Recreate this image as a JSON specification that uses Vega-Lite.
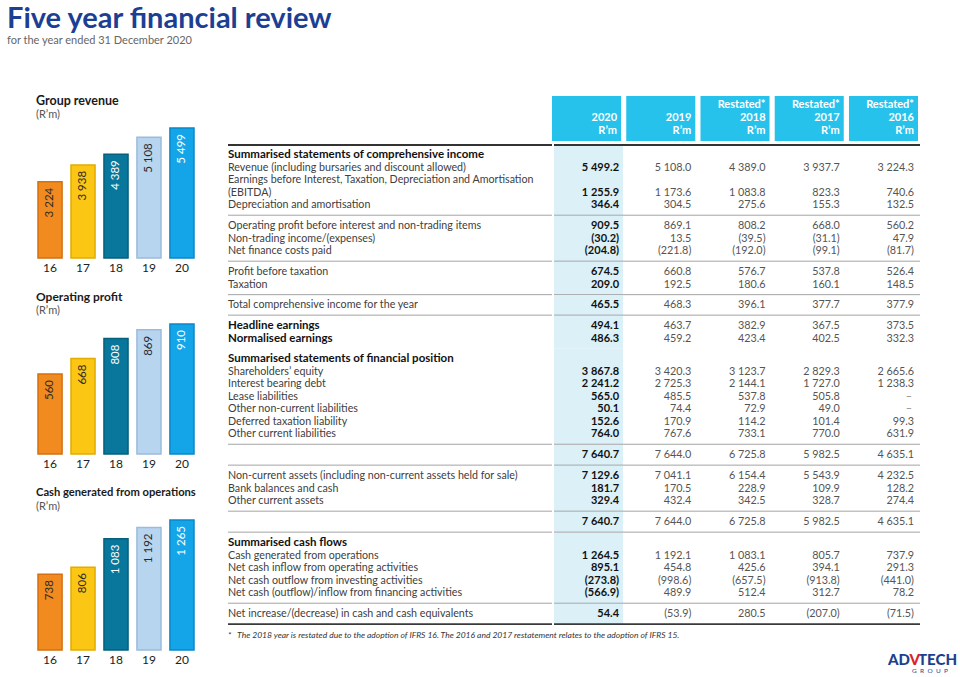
{
  "$schema": "https://vega.github.io/schema/vega-lite/v6.json",
  "padding": {"left": 7, "top": 5, "right": 0, "bottom": 0},
  "background": "white",
  "title": {
    "text": "Five year financial review",
    "subtitle": "for the year ended 31 December 2020",
    "anchor": "start", "frame": "group", "dx": -31,
    "font": "Lato", "fontSize": 29, "fontWeight": "bold", "color": "#1c3f94",
    "subtitleFont": "Lato", "subtitleFontSize": 11, "subtitleColor": "#666666",
    "subtitlePadding": 1, "offset": 49
  },
  "datasets": {
    "rev": [{"yr": "16", "v": 3224}, {"yr": "17", "v": 3938}, {"yr": "18", "v": 4389}, {"yr": "19", "v": 5108}, {"yr": "20", "v": 5499}],
    "op": [{"yr": "16", "v": 560}, {"yr": "17", "v": 668}, {"yr": "18", "v": 808}, {"yr": "19", "v": 869}, {"yr": "20", "v": 910}],
    "cash": [{"yr": "16", "v": 738}, {"yr": "17", "v": 806}, {"yr": "18", "v": 1083}, {"yr": "19", "v": 1192}, {"yr": "20", "v": 1265}],
    "hdr": [
      {"col": "2020", "head": ["", "2020", "R’m"]},
      {"col": "2019", "head": ["", "2019", "R’m"]},
      {"col": "2018", "head": ["Restated*", "2018", "R’m"]},
      {"col": "2017", "head": ["Restated*", "2017", "R’m"]},
      {"col": "2016", "head": ["Restated*", "2016", "R’m"]}
    ],
    "tbl": [
      {"n": 1, "g": 1, "kind": "section", "label": "Summarised statements of comprehensive income"},
      {"n": 2, "g": 1, "kind": "item", "label": "Revenue (including bursaries and discount allowed)", "2020": 5499.2, "2019": 5108.0, "2018": 4389.0, "2017": 3937.7, "2016": 3224.3},
      {"n": 3, "g": 1, "kind": "item", "label": "Earnings before Interest, Taxation, Depreciation and Amortisation"},
      {"n": 4, "g": 1, "kind": "item", "label": "\u2002(EBITDA)", "2020": 1255.9, "2019": 1173.6, "2018": 1083.8, "2017": 823.3, "2016": 740.6},
      {"n": 5, "g": 1, "kind": "item", "label": "Depreciation and amortisation", "2020": 346.4, "2019": 304.5, "2018": 275.6, "2017": 155.3, "2016": 132.5},
      {"n": 6, "g": 2, "kind": "item", "label": "Operating profit before interest and non-trading items", "2020": 909.5, "2019": 869.1, "2018": 808.2, "2017": 668.0, "2016": 560.2},
      {"n": 7, "g": 2, "kind": "item", "label": "Non-trading income/(expenses)", "2020": -30.2, "2019": 13.5, "2018": -39.5, "2017": -31.1, "2016": 47.9},
      {"n": 8, "g": 2, "kind": "item", "label": "Net finance costs paid", "2020": -204.8, "2019": -221.8, "2018": -192.0, "2017": -99.1, "2016": -81.7},
      {"n": 9, "g": 3, "kind": "item", "label": "Profit before taxation", "2020": 674.5, "2019": 660.8, "2018": 576.7, "2017": 537.8, "2016": 526.4},
      {"n": 10, "g": 3, "kind": "item", "label": "Taxation", "2020": 209.0, "2019": 192.5, "2018": 180.6, "2017": 160.1, "2016": 148.5},
      {"n": 11, "g": 4, "kind": "item", "label": "Total comprehensive income for the year", "2020": 465.5, "2019": 468.3, "2018": 396.1, "2017": 377.7, "2016": 377.9},
      {"n": 12, "g": 5, "kind": "key", "label": "Headline earnings", "2020": 494.1, "2019": 463.7, "2018": 382.9, "2017": 367.5, "2016": 373.5},
      {"n": 13, "g": 5, "kind": "key", "label": "Normalised earnings", "2020": 486.3, "2019": 459.2, "2018": 423.4, "2017": 402.5, "2016": 332.3},
      {"n": 14, "g": 6, "kind": "section", "label": "Summarised statements of financial position"},
      {"n": 15, "g": 6, "kind": "item", "label": "Shareholders’ equity", "2020": 3867.8, "2019": 3420.3, "2018": 3123.7, "2017": 2829.3, "2016": 2665.6},
      {"n": 16, "g": 6, "kind": "item", "label": "Interest bearing debt", "2020": 2241.2, "2019": 2725.3, "2018": 2144.1, "2017": 1727.0, "2016": 1238.3},
      {"n": 17, "g": 6, "kind": "item", "label": "Lease liabilities", "2020": 565.0, "2019": 485.5, "2018": 537.8, "2017": 505.8, "2016": null},
      {"n": 18, "g": 6, "kind": "item", "label": "Other non-current liabilities", "2020": 50.1, "2019": 74.4, "2018": 72.9, "2017": 49.0, "2016": null},
      {"n": 19, "g": 6, "kind": "item", "label": "Deferred taxation liability", "2020": 152.6, "2019": 170.9, "2018": 114.2, "2017": 101.4, "2016": 99.3},
      {"n": 20, "g": 6, "kind": "item", "label": "Other current liabilities", "2020": 764.0, "2019": 767.6, "2018": 733.1, "2017": 770.0, "2016": 631.9},
      {"n": 21, "g": 7, "kind": "total", "label": "", "2020": 7640.7, "2019": 7644.0, "2018": 6725.8, "2017": 5982.5, "2016": 4635.1},
      {"n": 22, "g": 8, "kind": "item", "label": "Non-current assets (including non-current assets held for sale)", "2020": 7129.6, "2019": 7041.1, "2018": 6154.4, "2017": 5543.9, "2016": 4232.5},
      {"n": 23, "g": 8, "kind": "item", "label": "Bank balances and cash", "2020": 181.7, "2019": 170.5, "2018": 228.9, "2017": 109.9, "2016": 128.2},
      {"n": 24, "g": 8, "kind": "item", "label": "Other current assets", "2020": 329.4, "2019": 432.4, "2018": 342.5, "2017": 328.7, "2016": 274.4},
      {"n": 25, "g": 9, "kind": "total", "label": "", "2020": 7640.7, "2019": 7644.0, "2018": 6725.8, "2017": 5982.5, "2016": 4635.1},
      {"n": 26, "g": 10, "kind": "section", "label": "Summarised cash flows"},
      {"n": 27, "g": 10, "kind": "item", "label": "Cash generated from operations", "2020": 1264.5, "2019": 1192.1, "2018": 1083.1, "2017": 805.7, "2016": 737.9},
      {"n": 28, "g": 10, "kind": "item", "label": "Net cash inflow from operating activities", "2020": 895.1, "2019": 454.8, "2018": 425.6, "2017": 394.1, "2016": 291.3},
      {"n": 29, "g": 10, "kind": "item", "label": "Net cash outflow from investing activities", "2020": -273.8, "2019": -998.6, "2018": -657.5, "2017": -913.8, "2016": -441.0},
      {"n": 30, "g": 10, "kind": "item", "label": "Net cash (outflow)/inflow from financing activities", "2020": -566.9, "2019": 489.9, "2018": 512.4, "2017": 312.7, "2016": 78.2},
      {"n": 31, "g": 11, "kind": "item", "label": "Net increase/(decrease) in cash and cash equivalents", "2020": 54.4, "2019": -53.9, "2018": 280.5, "2017": -207.0, "2016": -71.5}
    ]
  },
  "spacing": 31,
  "hconcat": [
    {
      "spacing": 18,
      "vconcat": [
        {
          "spacing": 6,
          "vconcat": [
            {
              "data": {"values": [{"t": "Group revenue", "u": "(R’m)"}]}, "width": 156, "height": 25,
              "layer": [
                {"mark": {"type": "text", "align": "left", "baseline": "middle", "dy": -7.5, "dx": -2, "fontSize": 12.5, "fontWeight": "bold", "color": "#1a1a1a"},
                 "encoding": {"x": {"datum": "t", "type": "nominal", "scale": {"type": "point", "padding": 0, "align": 0}, "axis": null}, "text": {"field": "t"}}},
                {"mark": {"type": "text", "align": "left", "baseline": "middle", "dy": 6.5, "dx": -2, "fontSize": 11, "color": "#555555"},
                 "encoding": {"x": {"datum": "t", "type": "nominal", "scale": {"type": "point", "padding": 0, "align": 0}, "axis": null}, "text": {"field": "u"}}}
              ]
            },
            {
              "data": {"name": "rev"}, "width": 156, "height": 130,
              "layer": [
                {"mark": {"type": "bar", "strokeWidth": 1.5},
                 "encoding": {
                   "x": {"field": "yr", "type": "nominal", "scale": {"paddingInner": 0.27, "paddingOuter": 0}, "axis": {"title": null, "labelAngle": 0, "ticks": false, "domain": false, "labelFontSize": 12, "labelColor": "#222222", "labelPadding": 4}},
                   "y": {"field": "v", "type": "quantitative", "scale": {"nice": false}, "axis": null},
                   "color": {"field": "yr", "type": "nominal", "scale": {"domain": ["16", "17", "18", "19", "20"], "range": ["#f28b1f", "#fcc614", "#08779b", "#b8d5ef", "#14a5e9"]}, "legend": null},
                   "stroke": {"field": "yr", "type": "nominal", "scale": {"domain": ["16", "17", "18", "19", "20"], "range": ["#d4700f", "#e3ac00", "#05607d", "#9bbbdc", "#0a88c9"]}, "legend": null}
                 }},
                {"mark": {"type": "text", "angle": 270, "align": "right", "baseline": "middle", "dx": -6, "fontSize": 11.5},
                 "encoding": {
                   "x": {"field": "yr", "type": "nominal"},
                   "y": {"field": "v", "type": "quantitative"},
                   "text": {"field": "v", "type": "quantitative", "format": ",d"},
                   "color": {"condition": {"test": "datum.yr == '18' || datum.yr == '20'", "value": "#ffffff"}, "value": "#2a2a2a"}
                 }}
              ]
            }
          ]
        },
        {
          "spacing": 6,
          "vconcat": [
            {
              "data": {"values": [{"t": "Operating profit", "u": "(R’m)"}]}, "width": 156, "height": 25,
              "layer": [
                {"mark": {"type": "text", "align": "left", "baseline": "middle", "dy": -7.5, "dx": -2, "fontSize": 12, "fontWeight": "bold", "color": "#1a1a1a"},
                 "encoding": {"x": {"datum": "t", "type": "nominal", "scale": {"type": "point", "padding": 0, "align": 0}, "axis": null}, "text": {"field": "t"}}},
                {"mark": {"type": "text", "align": "left", "baseline": "middle", "dy": 6.5, "dx": -2, "fontSize": 11, "color": "#555555"},
                 "encoding": {"x": {"datum": "t", "type": "nominal", "scale": {"type": "point", "padding": 0, "align": 0}, "axis": null}, "text": {"field": "u"}}}
              ]
            },
            {
              "data": {"name": "op"}, "width": 156, "height": 130,
              "layer": [
                {"mark": {"type": "bar", "strokeWidth": 1.5},
                 "encoding": {
                   "x": {"field": "yr", "type": "nominal", "scale": {"paddingInner": 0.27, "paddingOuter": 0}, "axis": {"title": null, "labelAngle": 0, "ticks": false, "domain": false, "labelFontSize": 12, "labelColor": "#222222", "labelPadding": 4}},
                   "y": {"field": "v", "type": "quantitative", "scale": {"nice": false}, "axis": null},
                   "color": {"field": "yr", "type": "nominal", "scale": {"domain": ["16", "17", "18", "19", "20"], "range": ["#f28b1f", "#fcc614", "#08779b", "#b8d5ef", "#14a5e9"]}, "legend": null},
                   "stroke": {"field": "yr", "type": "nominal", "scale": {"domain": ["16", "17", "18", "19", "20"], "range": ["#d4700f", "#e3ac00", "#05607d", "#9bbbdc", "#0a88c9"]}, "legend": null}
                 }},
                {"mark": {"type": "text", "angle": 270, "align": "right", "baseline": "middle", "dx": -6, "fontSize": 11.5},
                 "encoding": {
                   "x": {"field": "yr", "type": "nominal"},
                   "y": {"field": "v", "type": "quantitative"},
                   "text": {"field": "v", "type": "quantitative", "format": ",d"},
                   "color": {"condition": {"test": "datum.yr == '18' || datum.yr == '20'", "value": "#ffffff"}, "value": "#2a2a2a"}
                 }}
              ]
            }
          ]
        },
        {
          "spacing": 6,
          "vconcat": [
            {
              "data": {"values": [{"t": "Cash generated from operations", "u": "(R’m)"}]}, "width": 156, "height": 25,
              "layer": [
                {"mark": {"type": "text", "align": "left", "baseline": "middle", "dy": -7.5, "dx": -2, "fontSize": 11.2, "fontWeight": "bold", "color": "#1a1a1a"},
                 "encoding": {"x": {"datum": "t", "type": "nominal", "scale": {"type": "point", "padding": 0, "align": 0}, "axis": null}, "text": {"field": "t"}}},
                {"mark": {"type": "text", "align": "left", "baseline": "middle", "dy": 6.5, "dx": -2, "fontSize": 11, "color": "#555555"},
                 "encoding": {"x": {"datum": "t", "type": "nominal", "scale": {"type": "point", "padding": 0, "align": 0}, "axis": null}, "text": {"field": "u"}}}
              ]
            },
            {
              "data": {"name": "cash"}, "width": 156, "height": 130,
              "layer": [
                {"mark": {"type": "bar", "strokeWidth": 1.5},
                 "encoding": {
                   "x": {"field": "yr", "type": "nominal", "scale": {"paddingInner": 0.27, "paddingOuter": 0}, "axis": {"title": null, "labelAngle": 0, "ticks": false, "domain": false, "labelFontSize": 12, "labelColor": "#222222", "labelPadding": 4}},
                   "y": {"field": "v", "type": "quantitative", "scale": {"nice": false}, "axis": null},
                   "color": {"field": "yr", "type": "nominal", "scale": {"domain": ["16", "17", "18", "19", "20"], "range": ["#f28b1f", "#fcc614", "#08779b", "#b8d5ef", "#14a5e9"]}, "legend": null},
                   "stroke": {"field": "yr", "type": "nominal", "scale": {"domain": ["16", "17", "18", "19", "20"], "range": ["#d4700f", "#e3ac00", "#05607d", "#9bbbdc", "#0a88c9"]}, "legend": null}
                 }},
                {"mark": {"type": "text", "angle": 270, "align": "right", "baseline": "middle", "dx": -6, "fontSize": 11.5},
                 "encoding": {
                   "x": {"field": "yr", "type": "nominal"},
                   "y": {"field": "v", "type": "quantitative"},
                   "text": {"field": "v", "type": "quantitative", "format": ",d"},
                   "color": {"condition": {"test": "datum.yr == '18' || datum.yr == '20'", "value": "#ffffff"}, "value": "#2a2a2a"}
                 }}
              ]
            }
          ]
        }
      ]
    },
    {
      "spacing": 5,
      "vconcat": [
        {
          "spacing": 3,
          "vconcat": [
            {
              "spacing": 0,
              "hconcat": [
                {"data": {"values": [{"blank": ""}]}, "width": 324, "height": 45, "mark": {"type": "text"}, "encoding": {"text": {"field": "blank"}}},
                {
                  "data": {"name": "hdr"}, "width": 366, "height": 45,
                  "layer": [
                    {"mark": {"type": "bar", "color": "#27c2ec"},
                     "encoding": {"x": {"field": "col", "type": "nominal", "scale": {"type": "band", "domain": ["2020", "2019", "2018", "2017", "2016"], "paddingInner": 0.07, "paddingOuter": 0}, "axis": null}}},
                    {"mark": {"type": "text", "align": "right", "baseline": "top", "dx": -4, "dy": -19.5, "color": "#ffffff", "fontWeight": "bold", "fontSize": 11, "lineHeight": 13},
                     "encoding": {
                       "x": {"field": "col", "type": "nominal", "scale": {"type": "band", "domain": ["2020", "2019", "2018", "2017", "2016"], "paddingInner": 0.07, "paddingOuter": 0}, "bandPosition": 1, "axis": null},
                       "text": {"field": "head"}
                     }}
                  ]
                }
              ]
            },
            {
              "spacing": 0,
              "hconcat": [
                {
                  "data": {"name": "tbl"},
                  "facet": {"row": {"field": "g", "type": "ordinal", "header": null}},
                  "spacing": 0,
                  "bounds": "flush",
                  "resolve": {"scale": {"y": "independent"}},
                  "spec": {
                    "width": 324,
                    "height": {"step": 12.52},
                    "layer": [
                      {"transform": [{"filter": "datum.kind == 'item' || datum.kind == 'total'"}],
                       "mark": {"type": "text", "align": "left", "baseline": "middle", "fontSize": 10.7, "color": "#404040"},
                       "encoding": {
                         "x": {"datum": "item", "type": "nominal", "scale": {"type": "point", "padding": 0, "align": 0}, "axis": null},
                         "y": {"field": "n", "type": "ordinal", "scale": {"type": "band", "paddingInner": 0, "paddingOuter": 0.304}, "axis": null},
                         "text": {"field": "label"}
                       }},
                      {"transform": [{"filter": "datum.kind == 'section' || datum.kind == 'key'"}],
                       "mark": {"type": "text", "align": "left", "baseline": "middle", "fontSize": 11.5, "fontWeight": "bold", "color": "#111111"},
                       "encoding": {
                         "x": {"datum": "item", "type": "nominal", "scale": {"type": "point", "padding": 0, "align": 0}, "axis": null},
                         "y": {"field": "n", "type": "ordinal", "scale": {"type": "band", "paddingInner": 0, "paddingOuter": 0.304}, "axis": null},
                         "text": {"field": "label"}
                       }},
                      {"transform": [{"aggregate": [{"op": "count", "as": "c"}], "groupby": ["g"]}, {"filter": "datum.g != 5"}],
                       "mark": {"type": "rule"},
                       "encoding": {
                         "y": {"value": "height"},
                         "color": {"condition": {"test": "datum.g == 11", "value": "#3a3a3a"}, "value": "#9a9a9a"},
                         "strokeWidth": {"condition": {"test": "datum.g == 11", "value": 1.6}, "value": 0.9}
                       }},
                      {"transform": [{"aggregate": [{"op": "count", "as": "c"}], "groupby": ["g"]}, {"filter": "datum.g == 1"}],
                       "mark": {"type": "rule", "color": "#333333", "strokeWidth": 2},
                       "encoding": {"y": {"value": 0}}}
                    ]
                  }
                },
                {
                  "data": {"name": "tbl"},
                  "facet": {"row": {"field": "g", "type": "ordinal", "header": null}},
                  "spacing": 0,
                  "bounds": "flush",
                  "resolve": {"scale": {"y": "independent"}},
                  "spec": {
                    "width": 366,
                    "height": {"step": 12.52},
                    "layer": [
                      {"transform": [{"aggregate": [{"op": "count", "as": "c"}], "groupby": ["g"]}],
                       "mark": {"type": "bar", "color": "#dcf0f8"},
                       "encoding": {"x": {"datum": "2020", "type": "nominal", "scale": {"type": "band", "domain": ["2020", "2019", "2018", "2017", "2016"], "paddingInner": 0.07, "paddingOuter": 0}, "axis": null}}},
                      {"mark": {"type": "text", "text": ""},
                       "encoding": {
                         "y": {"field": "n", "type": "ordinal", "scale": {"type": "band", "paddingInner": 0, "paddingOuter": 0.304}, "axis": null}
                       }},
                      {"transform": [{"fold": ["2020", "2019", "2018", "2017", "2016"], "as": ["col", "val"]}, {"filter": "datum.col == '2020' && isValid(datum.val)"}],
                       "mark": {"type": "text", "align": "right", "baseline": "middle", "dx": -4, "fontSize": 11, "fontWeight": "bold", "color": "#111111"},
                       "encoding": {
                         "x": {"field": "col", "type": "nominal", "scale": {"type": "band", "domain": ["2020", "2019", "2018", "2017", "2016"], "paddingInner": 0.07, "paddingOuter": 0}, "bandPosition": 1, "axis": null},
                         "y": {"field": "n", "type": "ordinal", "scale": {"type": "band", "paddingInner": 0, "paddingOuter": 0.304}, "axis": null},
                         "text": {"field": "val", "type": "quantitative", "format": "(,.1f"}
                       }},
                      {"transform": [{"fold": ["2020", "2019", "2018", "2017", "2016"], "as": ["col", "val"]}, {"filter": "datum.col != '2020' && isValid(datum.val)"}],
                       "mark": {"type": "text", "align": "right", "baseline": "middle", "dx": -6, "fontSize": 10.8, "color": "#555555"},
                       "encoding": {
                         "x": {"field": "col", "type": "nominal", "scale": {"type": "band", "domain": ["2020", "2019", "2018", "2017", "2016"], "paddingInner": 0.07, "paddingOuter": 0}, "bandPosition": 1, "axis": null},
                         "y": {"field": "n", "type": "ordinal", "scale": {"type": "band", "paddingInner": 0, "paddingOuter": 0.304}, "axis": null},
                         "text": {"field": "val", "type": "quantitative", "format": "(,.1f"}
                       }},
                      {"transform": [{"fold": ["2020", "2019", "2018", "2017", "2016"], "as": ["col", "val"]}, {"filter": "datum.val === null"}],
                       "mark": {"type": "text", "align": "right", "baseline": "middle", "dx": -8, "fontSize": 10.8, "color": "#888888", "text": "–"},
                       "encoding": {
                         "x": {"field": "col", "type": "nominal", "scale": {"type": "band", "domain": ["2020", "2019", "2018", "2017", "2016"], "paddingInner": 0.07, "paddingOuter": 0}, "bandPosition": 1, "axis": null},
                         "y": {"field": "n", "type": "ordinal", "scale": {"type": "band", "paddingInner": 0, "paddingOuter": 0.304}, "axis": null}
                       }},
                      {"transform": [{"aggregate": [{"op": "count", "as": "c"}], "groupby": ["g"]}, {"filter": "datum.g != 5"}],
                       "mark": {"type": "rule"},
                       "encoding": {
                         "y": {"value": "height"},
                         "color": {"condition": {"test": "datum.g == 11", "value": "#3a3a3a"}, "value": "#9a9a9a"},
                         "strokeWidth": {"condition": {"test": "datum.g == 11", "value": 1.6}, "value": 0.9}
                       }},
                      {"transform": [{"aggregate": [{"op": "count", "as": "c"}], "groupby": ["g"]}, {"filter": "datum.g == 1"}],
                       "mark": {"type": "rule", "color": "#333333", "strokeWidth": 2},
                       "encoding": {"y": {"value": 0}}}
                    ]
                  }
                }
              ]
            }
          ]
        },
        {
          "data": {"values": [{"note": "*\u00a0\u00a0\u00a0The 2018 year is restated due to the adoption of IFRS 16. The 2016 and 2017 restatement relates to the adoption of IFRS 15."}]},
          "width": 690, "height": 10,
          "mark": {"type": "text", "align": "left", "baseline": "middle", "fontSize": 8.5, "fontStyle": "italic", "color": "#333333"},
          "encoding": {
            "x": {"datum": "note", "type": "nominal", "scale": {"type": "point", "padding": 0, "align": 0}, "axis": null},
            "text": {"field": "note"}
          }
        },
        {
          "data": {"values": [{"a": "AD", "v": "V", "b": "TECH", "sub": "G\u00a0\u00a0R\u00a0\u00a0O\u00a0\u00a0U\u00a0\u00a0P"}]},
          "width": 729, "height": 28,
          "layer": [
            {"mark": {"type": "text", "align": "right", "baseline": "middle", "dy": 1, "fontSize": 15, "fontWeight": 900, "color": "#1d3f8f"},
             "encoding": {"x": {"datum": "logo", "type": "nominal", "scale": {"type": "point", "padding": 0, "align": 1}, "axis": null}, "text": {"field": "b"}}},
            {"mark": {"type": "text", "align": "right", "baseline": "middle", "dy": 1, "dx": -37, "fontSize": 15, "fontWeight": 900, "color": "#d8232a"},
             "encoding": {"x": {"datum": "logo", "type": "nominal", "scale": {"type": "point", "padding": 0, "align": 1}, "axis": null}, "text": {"field": "v"}}},
            {"mark": {"type": "text", "align": "right", "baseline": "middle", "dy": 1, "dx": -47, "fontSize": 15, "fontWeight": 900, "color": "#1d3f8f"},
             "encoding": {"x": {"datum": "logo", "type": "nominal", "scale": {"type": "point", "padding": 0, "align": 1}, "axis": null}, "text": {"field": "a"}}},
            {"mark": {"type": "text", "align": "right", "baseline": "middle", "dy": 12, "dx": -9, "fontSize": 6.5, "color": "#1d3f8f"},
             "encoding": {"x": {"datum": "logo", "type": "nominal", "scale": {"type": "point", "padding": 0, "align": 1}, "axis": null}, "text": {"field": "sub"}}}
          ]
        }
      ]
    }
  ],
  "config": {
    "view": {"stroke": null},
    "font": "Lato",
    "locale": {"number": {"decimal": ".", "thousands": " ", "grouping": [3], "currency": ["R", ""]}}
  }
}
